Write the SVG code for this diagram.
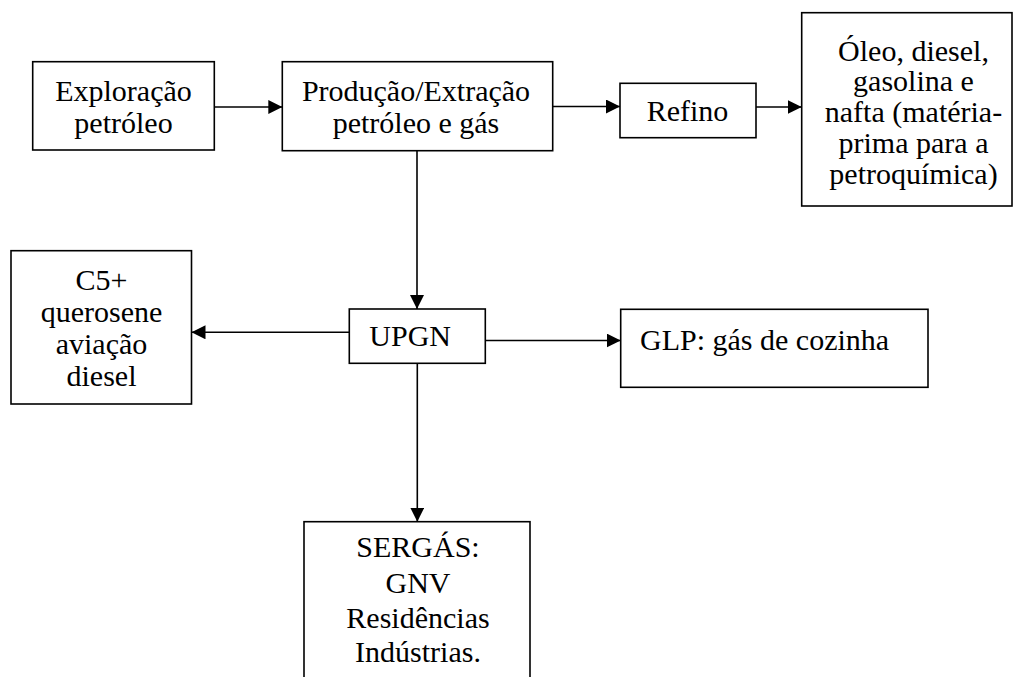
<svg xmlns="http://www.w3.org/2000/svg" width="1013" height="677" viewBox="0 0 1013 677">
  <style>
    .box { fill: #ffffff; stroke: #000000; stroke-width: 1.6; }
    .lbl { font-family: "Liberation Serif", "Times New Roman", serif; font-size: 30px; fill: #000000; }
    .mid { text-anchor: middle; }
    .link { fill: none; stroke: #000000; stroke-width: 1.6; marker-end: url(#tip); }
  </style>
  <defs>
    <marker id="tip" markerUnits="userSpaceOnUse" markerWidth="15" markerHeight="14" refX="14" refY="7" orient="auto">
      <path d="M0,0 L14,7 L0,14 Z" fill="#000000"/>
    </marker>
  </defs>
  <rect width="1013" height="677" fill="#ffffff"/>

  <g id="connectors">
    <line class="link" x1="214.3" y1="107" x2="282.3" y2="107"/>
    <line class="link" x1="552.7" y1="106.5" x2="620" y2="106.5"/>
    <line class="link" x1="756" y1="107" x2="801.7" y2="107"/>
    <line class="link" x1="417" y1="150.7" x2="417" y2="309"/>
    <line class="link" x1="349.3" y1="332.3" x2="191.5" y2="332.3"/>
    <line class="link" x1="485.3" y1="340.5" x2="620.7" y2="340.5"/>
    <line class="link" x1="417.3" y1="363.3" x2="417.3" y2="521.7"/>
  </g>

  <g id="exploracao">
    <rect class="box" x="32.7" y="61.7" width="181.6" height="88.3"/>
    <text class="lbl mid" x="123.5" y="100.7">Exploração</text>
    <text class="lbl mid" x="123.5" y="132.7">petróleo</text>
  </g>

  <g id="producao">
    <rect class="box" x="282.3" y="61.7" width="270.4" height="89"/>
    <text class="lbl mid" x="416" y="100.7">Produção/Extração</text>
    <text class="lbl mid" x="416" y="132.7">petróleo e gás</text>
  </g>

  <g id="refino">
    <rect class="box" x="620" y="83.3" width="136" height="54.4"/>
    <text class="lbl mid" x="687.5" y="120.7">Refino</text>
  </g>

  <g id="derivados">
    <rect class="box" x="801.7" y="12.7" width="210.3" height="193.3"/>
    <text class="lbl mid" x="913.5" y="60.5">Óleo, diesel,</text>
    <text class="lbl mid" x="913.5" y="91.3">gasolina e</text>
    <text class="lbl mid" x="913.5" y="122.1">nafta (matéria-</text>
    <text class="lbl mid" x="913.5" y="152.9">prima para a</text>
    <text class="lbl mid" x="913.5" y="183.7">petroquímica)</text>
  </g>

  <g id="upgn">
    <rect class="box" x="349.3" y="309" width="136" height="54.3"/>
    <text class="lbl" x="369.3" y="346">UPGN</text>
  </g>

  <g id="c5">
    <rect class="box" x="11" y="250.7" width="180.5" height="153.3"/>
    <text class="lbl mid" x="101.5" y="290">C5+</text>
    <text class="lbl mid" x="101.5" y="322">querosene</text>
    <text class="lbl mid" x="101.5" y="354">aviação</text>
    <text class="lbl mid" x="101.5" y="386">diesel</text>
  </g>

  <g id="glp">
    <rect class="box" x="620.7" y="309.3" width="307.3" height="78"/>
    <text class="lbl" x="640" y="350">GLP: gás de cozinha</text>
  </g>

  <g id="sergas">
    <rect class="box" x="304" y="521.7" width="226" height="170"/>
    <text class="lbl mid" x="418" y="557.3">SERGÁS:</text>
    <text class="lbl mid" x="418" y="593.3">GNV</text>
    <text class="lbl mid" x="418" y="628.3">Residências</text>
    <text class="lbl mid" x="418" y="661.7">Indústrias.</text>
  </g>
</svg>
